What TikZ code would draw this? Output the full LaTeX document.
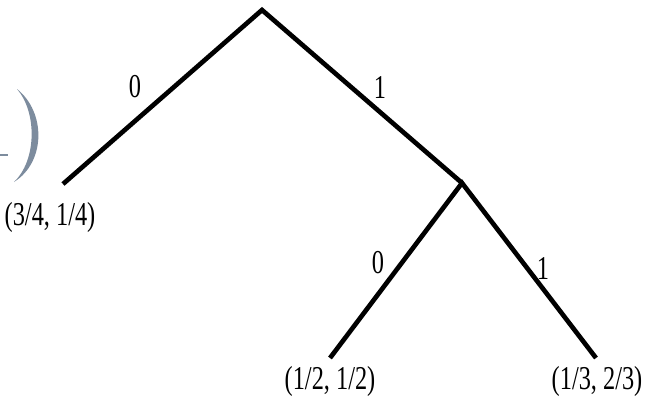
\documentclass[tikz,border=0pt]{standalone}
\usepackage{fontspec}
\newfontfamily\tfont[FakeStretch=0.73]{Liberation Serif}
\definecolor{slate}{RGB}{125,140,158}
\begin{document}
\begin{tikzpicture}[x=0.75pt,y=-0.75pt,
  edge/.style={line width=3.5pt,line join=miter},
  lbl/.style={font=\tfont\fontsize{25}{28}\selectfont,inner sep=0pt}]
\useasboundingbox (0,0) rectangle (655,396);
% gray bracket fragment
\fill[slate] (17,89) .. controls (46,112) and (46,162) .. (14,182)
  .. controls (37,160) and (37,112) .. (17,89) -- cycle;
\draw[slate,line width=1.3pt] (0,155) -- (8,155);
% tree
\coordinate (r) at (262,10);
\coordinate (a) at (63,184);
\coordinate (b) at (462,183);
\coordinate (c) at (330,358);
\coordinate (d) at (596,358);
\draw[edge] (a) -- (r) -- (b);
\draw[edge] (c) -- (b) -- (d);
\node[lbl] (l0) at (135,87) {0};
\node[lbl] (l1) at (380,87) {1};
\node[lbl] (l2) at (378,263) {0};
\node[lbl] (l3) at (543,268) {1};
\node[lbl] (ta) at (50,217) {(3/4, 1/4)};
\node[lbl] (tc) at (330,381) {(1/2, 1/2)};
\node[lbl] (td) at (597,381) {(1/3, 2/3)};
\end{tikzpicture}
\end{document}
